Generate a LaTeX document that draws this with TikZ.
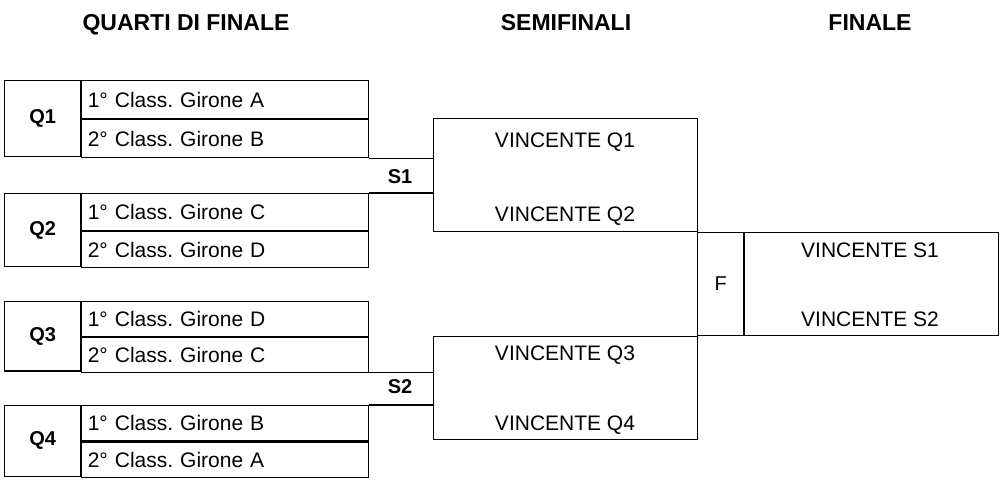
\documentclass[tikz,border=0pt]{standalone}
\usepackage{fontspec}
\setmainfont{Liberation Sans}
\frenchspacing
\usetikzlibrary{positioning}
\tikzset{labelcell/.style={draw,rectangle,line width=1.2pt,minimum width=76pt,inner sep=0,font=\fontsize{20}{24}\selectfont\bfseries},
    teamcell/.style={draw,rectangle,line width=1.2pt,text width=275pt,inner xsep=6pt,inner ysep=0,align=left,font=\fontsize{21}{25}\selectfont},
    matchbox/.style={draw,rectangle,line width=1.2pt,inner sep=0},
    wintext/.style={anchor=base,font=\fontsize{21}{25}\selectfont},
    roundtitle/.style={anchor=base,font=\fontsize{23}{28}\selectfont\bfseries},
    joinline/.style={line width=1.2pt}
}
\newcommand{\quarterblock}[6]
{
% args: (name, y of top edge, height of one row, label, first team, second team)
    \node (#1) [labelcell,minimum height=2*#3,anchor=north west] at (4,#2) {#4};
    \node (#1a) [teamcell,minimum height=#3,anchor=north west] at (#1.north east) {#5};
    \node (#1b) [teamcell,minimum height=#3,anchor=north west] at (#1a.south west) {#6};
}

\begin{document}
\begin{tikzpicture}[x=1pt,y=-1pt]

\useasboundingbox (0,0) rectangle (1003,483);

% titles

\node (tquarti) at (186,30) [roundtitle] {QUARTI DI FINALE};
\node (tsemi) at (566,30) [roundtitle] {SEMIFINALI};
\node (tfinale) at (870,30) [roundtitle] {FINALE};

%% quarter finals

\quarterblock{q1}{80}{38}{Q1}{1° Class. Girone A}{2° Class. Girone B}
\quarterblock{q2}{193}{36.5}{Q2}{1° Class. Girone C}{2° Class. Girone D}
\quarterblock{q3}{301}{34.7}{Q3}{1° Class. Girone D}{2° Class. Girone C}
\quarterblock{q4}{405}{35.3}{Q4}{1° Class. Girone B}{2° Class. Girone A}

%% semi finals

\node (semi1) at (433,118) [matchbox,anchor=north west,minimum width=264pt,minimum height=113pt] {};
\node (semi2) at (433,336) [matchbox,anchor=north west,minimum width=264pt,minimum height=103pt] {};

\node (w1) at (565,147.5) [wintext] {VINCENTE Q1};
\node (w2) at (565,221.5) [wintext] {VINCENTE Q2};
\node (w3) at (565,360.5) [wintext] {VINCENTE Q3};
\node (w4) at (565,430.5) [wintext] {VINCENTE Q4};

\node (s1) at (400,177) [labelcell,draw=none] {S1};
\node (s2) at (400,387) [labelcell,draw=none] {S2};

\draw [joinline] (q1b.south east) -- (q1b.south east -| semi1.west);
\draw [joinline] (q2a.north east) -- (q2a.north east -| semi1.west);
\draw [joinline] (q3b.south east) -- (q3b.south east -| semi2.west);
\draw [joinline] (q4a.north east) -- (q4a.north east -| semi2.west);

%% final

\node (fin) at (697,232) [matchbox,anchor=north west,minimum width=46pt,minimum height=103pt,font=\fontsize{20}{24}\selectfont] {F};
\node (finbox) at (fin.north east) [matchbox,anchor=north west,minimum width=254pt,minimum height=103pt] {};

\node (ws1) at (870,257.5) [wintext] {VINCENTE S1};
\node (ws2) at (870,326.5) [wintext] {VINCENTE S2};

\end{tikzpicture}
\end{document}
